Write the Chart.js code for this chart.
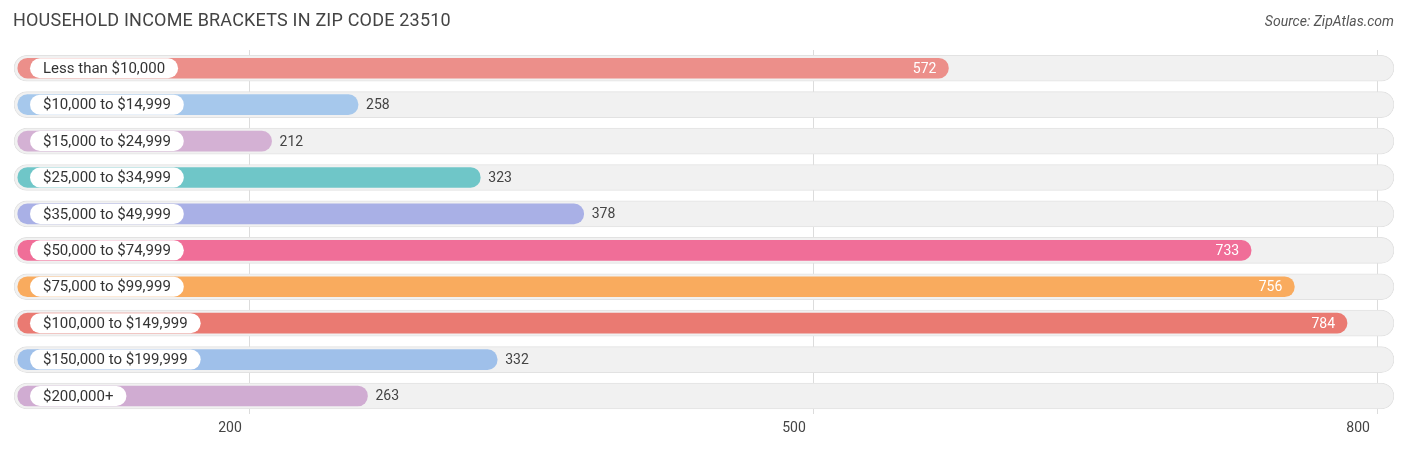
<!DOCTYPE html>
<html>
<head>
<meta charset="utf-8">
<script src="https://cdn.jsdelivr.net/npm/chart.js@4"></script>
<style>
  body { margin: 0; background: #fff; font-family: Roboto, "Open Sans", sans-serif; }
  #wrap { position: relative; width: 1406px; height: 449px; }
  #title { position: absolute; left: 13px; top: 9px; font-size: 18px; color: #444; letter-spacing: 0.2px; }
  #source { position: absolute; right: 12px; top: 13px; font-size: 14px; color: #555; font-style: italic; }
</style>
</head>
<body>
<div id="wrap">
  <div id="title">HOUSEHOLD INCOME BRACKETS IN ZIP CODE 23510</div>
  <div id="source">Source: ZipAtlas.com</div>
  <canvas id="chart" width="1406" height="449"></canvas>
</div>
<script>
const categories = ['Less than $10,000', '$10,000 to $14,999', '$15,000 to $24,999', '$25,000 to $34,999',
  '$35,000 to $49,999', '$50,000 to $74,999', '$75,000 to $99,999', '$100,000 to $149,999',
  '$150,000 to $199,999', '$200,000+'];
const values = [572, 258, 212, 323, 378, 733, 756, 784, 332, 263];
const colors = ['#ec8f8a', '#a6c8ec', '#d4b1d4', '#6fc6c8', '#a9b0e6', '#f06e98', '#f9ab5e', '#ea7a72', '#9fc0ea', '#d0acd2'];
const tickValues = [200, 500, 800];
const axisMin = 75;
const axisMax = 809;

// pill labels on the left and value labels at bar ends
const labelPlugin = {
  id: 'labels',
  afterDatasetsDraw(chart) {
    const ctx = chart.ctx;
    const meta = chart.getDatasetMeta(1);
    const left = chart.chartArea.left;
    ctx.save();
    meta.data.forEach((bar, i) => {
      const y = bar.y;
      ctx.font = '15px Roboto, sans-serif';
      const w = ctx.measureText(categories[i]).width;
      const px = left + 16, ph = 20;
      ctx.fillStyle = '#fff';
      ctx.beginPath();
      ctx.roundRect(px, y - ph / 2, w + 26, ph, 10);
      ctx.fill();
      ctx.fillStyle = '#333';
      ctx.textBaseline = 'middle';
      ctx.textAlign = 'left';
      ctx.fillText(categories[i], px + 13, y + 1);

      ctx.font = '14px Roboto, sans-serif';
      if (values[i] > 500) {
        ctx.fillStyle = '#fff';
        ctx.textAlign = 'right';
        ctx.fillText(values[i], bar.x - 12, y + 1);
      } else {
        ctx.fillStyle = '#444';
        ctx.textAlign = 'left';
        ctx.fillText(values[i], bar.x + 8, y + 1);
      }
    });
    ctx.restore();
  }
};

new Chart(document.getElementById('chart'), {
  type: 'bar',
  data: {
    labels: categories,
    datasets: [
      {
        data: categories.map(() => axisMax),
        base: axisMin,
        backgroundColor: '#f1f1f1',
        borderColor: '#e2e2e2',
        borderWidth: 1,
        borderRadius: 13,
        borderSkipped: false,
        barThickness: 26,
        grouped: false,
        order: 2
      },
      {
        data: values,
        base: axisMin + 2,
        backgroundColor: colors,
        borderRadius: 10,
        borderSkipped: false,
        barThickness: 20,
        grouped: false,
        order: 1
      }
    ]
  },
  options: {
    indexAxis: 'y',
    responsive: false,
    animation: false,
    layout: { padding: { left: 14, right: 12, top: 50, bottom: 6 } },
    plugins: { legend: { display: false }, tooltip: { enabled: false } },
    scales: {
      y: { display: false },
      x: {
        min: axisMin,
        max: axisMax,
        afterBuildTicks: (axis) => { axis.ticks = tickValues.map(v => ({ value: v })); },
        grid: { color: '#dcdcdc', drawTicks: false },
        border: { display: false },
        ticks: { color: '#444', font: { size: 14, family: 'Roboto' }, labelOffset: -19, padding: 6 }
      }
    }
  },
  plugins: [labelPlugin]
});
</script>
</body>
</html>
